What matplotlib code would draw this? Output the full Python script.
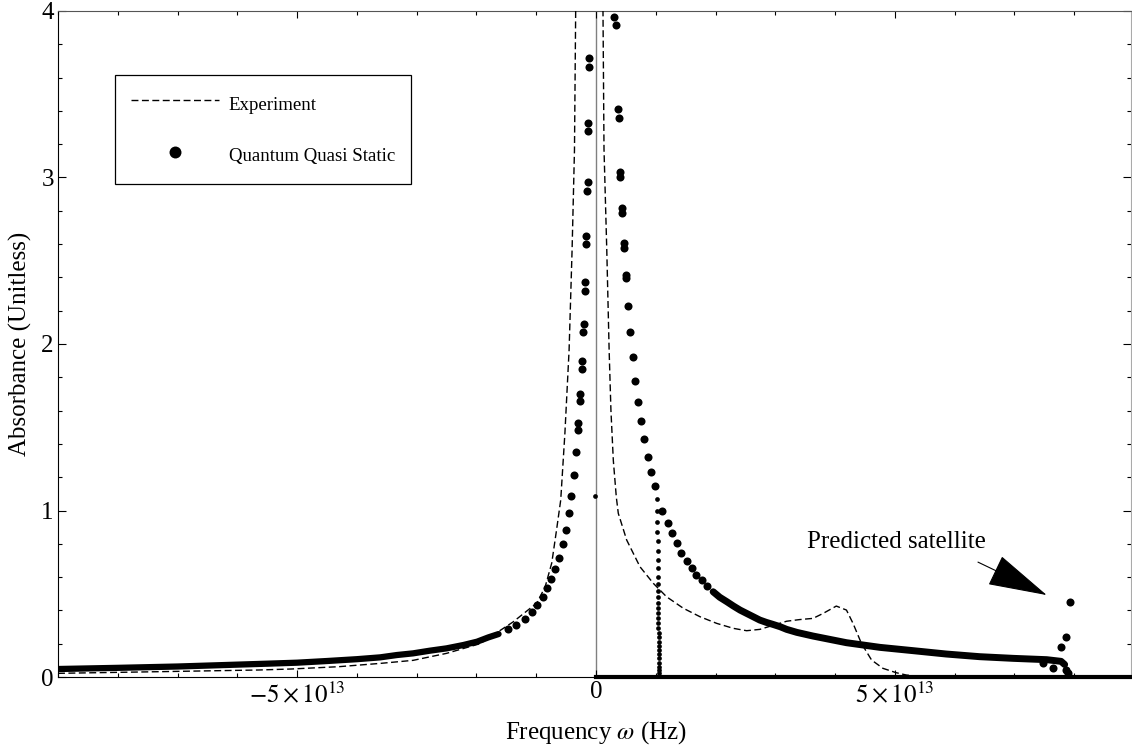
import numpy as np
import matplotlib
matplotlib.use("Agg")
import matplotlib.pyplot as plt
from matplotlib.lines import Line2D

plt.rcParams["font.family"] = ["Liberation Serif", "DejaVu Serif"]
plt.rcParams["mathtext.fontset"] = "stix"

UNIT = 1e13  # frequencies below are in units of 1e13 Hz

# Experiment (dashed line)
exp_x = [-9.0, -7.3, -5.65, -5.1, -4.3, -3.6, -3.06, -2.5, -1.94, -1.39, -0.99, -0.85,
         -0.74, -0.66, -0.59, -0.52, -0.45, -0.40, -0.36, -0.34, -0.11,
         0.117, 0.134, 0.18, 0.22, 0.25, 0.29, 0.34, 0.373, 0.513, 0.736, 0.958, 1.18,
         1.46, 1.74, 2.02, 2.30, 2.52, 2.74, 2.96, 3.19, 3.41, 3.63, 3.80, 4.02, 4.19,
         4.30, 4.44, 4.61, 4.80, 5.02, 5.19, 5.5]
exp_y = [0.022, 0.032, 0.042, 0.048, 0.062, 0.082, 0.100, 0.142, 0.200, 0.330, 0.444, 0.542,
         0.685, 0.883, 1.063, 1.465, 1.964, 2.565, 3.165, 4.0, 8.0,
         4.0, 3.17, 2.57, 1.96, 1.60, 1.30, 1.08, 0.983, 0.823, 0.662, 0.563, 0.482,
         0.413, 0.362, 0.322, 0.292, 0.278, 0.286, 0.31, 0.335, 0.345, 0.352, 0.382, 0.426, 0.402,
         0.322, 0.202, 0.102, 0.052, 0.026, 0.012, 0.0]

# Quantum Quasi Static: dense tails (overlapping dots form a band)
qqs_tail_left_x = [-9.0, -8.0, -7.0, -6.2, -5.5, -5.0, -4.5, -4.0, -3.61, -3.33, -3.06,
                   -2.78, -2.50, -2.22, -1.99, -1.80, -1.63]
qqs_tail_left_y = [0.048, 0.055, 0.063, 0.072, 0.080, 0.086, 0.096, 0.107, 0.118, 0.132, 0.142,
                   0.158, 0.172, 0.192, 0.212, 0.238, 0.258]
qqs_tail_right_x = [1.96, 2.07, 2.19, 2.30, 2.41, 2.52, 2.63, 2.74, 2.85, 2.96, 3.08, 3.19,
                    3.36, 3.63, 4.19, 4.75, 5.31, 5.86, 6.42, 6.98, 7.54, 7.78, 7.84]
qqs_tail_right_y = [0.512, 0.479, 0.452, 0.426, 0.402, 0.382, 0.362, 0.342, 0.328, 0.316, 0.302, 0.286,
                    0.268, 0.246, 0.206, 0.178, 0.158, 0.138, 0.122, 0.112, 0.104, 0.094, 0.075]

# Quantum Quasi Static: resolved dots
qqs_x = [-1.47, -1.33, -1.19, -1.075, -0.99, -0.89, -0.825, -0.753, -0.686, -0.613, -0.557,
         -0.502, -0.452, -0.41, -0.373, -0.334,
         -0.293, -0.299, -0.265, -0.271, -0.236, -0.242, -0.209, -0.215, -0.186, -0.192,
         -0.164, -0.170, -0.142, -0.148, -0.131, -0.137, -0.114, -0.120,
         0.306, 0.330, 0.368, 0.380, 0.404, 0.408, 0.438, 0.442, 0.471, 0.475, 0.505, 0.509,
         0.54, 0.575, 0.62, 0.66, 0.71, 0.76, 0.81, 0.87, 0.92, 0.99, 1.10, 1.20, 1.27,
         1.35, 1.42, 1.52, 1.60, 1.68, 1.77, 1.85,
         7.48, 7.65, 7.87, 7.89, 7.78, 7.86, 7.93]
qqs_y = [0.286, 0.312, 0.346, 0.392, 0.432, 0.483, 0.533, 0.587, 0.647, 0.717, 0.797,
         0.883, 0.983, 1.09, 1.213, 1.35,
         1.525, 1.485, 1.70, 1.66, 1.90, 1.85, 2.12, 2.07, 2.37, 2.32,
         2.65, 2.60, 2.97, 2.92, 3.33, 3.28, 3.715, 3.665,
         3.965, 3.915, 3.41, 3.36, 3.035, 3.005, 2.815, 2.785, 2.605, 2.575, 2.415, 2.395,
         2.23, 2.07, 1.92, 1.78, 1.65, 1.54, 1.43, 1.32, 1.233, 1.147, 0.995, 0.923, 0.863,
         0.803, 0.747, 0.699, 0.653, 0.613, 0.583, 0.547,
         0.082, 0.056, 0.04, 0.024, 0.182, 0.238, 0.452]

# Quantum Quasi Static: vertical drop near 1e13 and stray point at zero
drop_x = [1.025, 1.025, 1.027, 1.027, 1.03, 1.03, 1.032, 1.032, 1.035, 1.035, 1.037, 1.037,
          1.04, 1.04, 1.042, 1.042, 1.045, 1.045, 1.047, 1.047, 1.05, 1.05, 1.052, 1.052,
          1.055, 1.055, 1.057, 1.06, 1.06]
drop_y = [1.067, 0.999, 0.933, 0.873, 0.817, 0.759, 0.703, 0.653, 0.602, 0.559, 0.518, 0.482,
          0.446, 0.413, 0.383, 0.353, 0.323, 0.292, 0.262, 0.238, 0.212, 0.186, 0.162, 0.138,
          0.112, 0.086, 0.062, 0.042, 0.022]
stray_x = [-0.017]
stray_y = [1.09]
zero_x = [0.0, 9.0]
zero_y = [0.0, 0.0]

fig = plt.figure(figsize=(11.32, 7.46), dpi=100)
ax = fig.add_axes([58 / 1132, 69 / 746, 1073 / 1132, 666 / 746])

ax.axvline(0, color="#808080", lw=1.0, zorder=1)

ax.plot(np.array(exp_x) * UNIT, exp_y, color="black", lw=1.0, dashes=(5, 2.5), zorder=3)
ax.plot(np.array(qqs_tail_left_x) * UNIT, qqs_tail_left_y, color="black", lw=4.5,
        solid_capstyle="round", zorder=2)
ax.plot(np.array(qqs_tail_right_x) * UNIT, qqs_tail_right_y, color="black", lw=5.0,
        solid_capstyle="round", zorder=2)
ax.plot(np.array(qqs_x) * UNIT, qqs_y, "o", color="black", ms=5.8, mew=0, zorder=2)
ax.plot(np.array(drop_x) * UNIT, drop_y, "o", color="black", ms=3.4, mew=0, zorder=2)
ax.plot(np.array(stray_x) * UNIT, stray_y, "o", color="black", ms=3.4, mew=0, zorder=2)
ax.plot(np.array(zero_x) * UNIT, zero_y, color="black", lw=3, clip_on=False, zorder=4)

ax.set_xlim(-9.0 * UNIT, 8.95 * UNIT)
ax.set_ylim(0, 4)

ax.set_xticks([-5 * UNIT, 0, 5 * UNIT])
ax.set_xticklabels([r"$-5\times10^{13}$", "0", r"$5\times10^{13}$"])
ax.set_xticks(np.arange(-9, 9) * UNIT, minor=True)
ax.set_yticks([0, 1, 2, 3, 4])
ax.set_yticks(np.arange(0, 4.01, 0.2), minor=True)
ax.tick_params(which="both", direction="in", top=True, right=True, labelsize=18, width=0.8)
ax.tick_params(axis="x", which="major", length=5, pad=3)
ax.tick_params(axis="y", which="major", length=6, pad=3)
ax.tick_params(which="minor", length=3)

ax.spines["left"].set_color("black")
ax.spines["bottom"].set_color("black")
ax.spines["top"].set_color("#555555")
ax.spines["right"].set_color("#aaaaaa")

ax.set_xlabel(r"Frequency $\omega$ (Hz)", fontsize=18)
ax.xaxis.set_label_coords(0.5014, -0.064)
ax.set_ylabel("Absorbance (Unitless)", fontsize=18)
ax.yaxis.set_label_coords(-0.024, 0.5)

handles = [
    Line2D([], [], color="black", lw=1.0, dashes=(5, 2.5)),
    Line2D([], [], color="black", marker="o", ls="none", ms=8.6, mew=0),
]
ax.legend(handles, ["Experiment", "Quantum Quasi Static"], loc="upper left",
          bbox_to_anchor=(0.0531, 0.904), borderaxespad=0, fontsize=13.6,
          frameon=True, fancybox=False, edgecolor="black", framealpha=1,
          borderpad=0.85, labelspacing=1.38, handleheight=1.7, handlelength=4.65,
          handletextpad=0.53, numpoints=1)
ax.get_legend().get_frame().set_linewidth(0.9)

ax.text(5.03 * UNIT, 0.81, "Predicted satellite", fontsize=18, ha="center", va="center")
ax.annotate("", xy=(7.54 * UNIT, 0.492), xytext=(6.39 * UNIT, 0.69),
            arrowprops=dict(arrowstyle="-|>,head_length=2.6,head_width=0.7",
                            mutation_scale=15, lw=0.8, color="black",
                            shrinkA=0, shrinkB=0))

fig.savefig("out.png", dpi=100)
